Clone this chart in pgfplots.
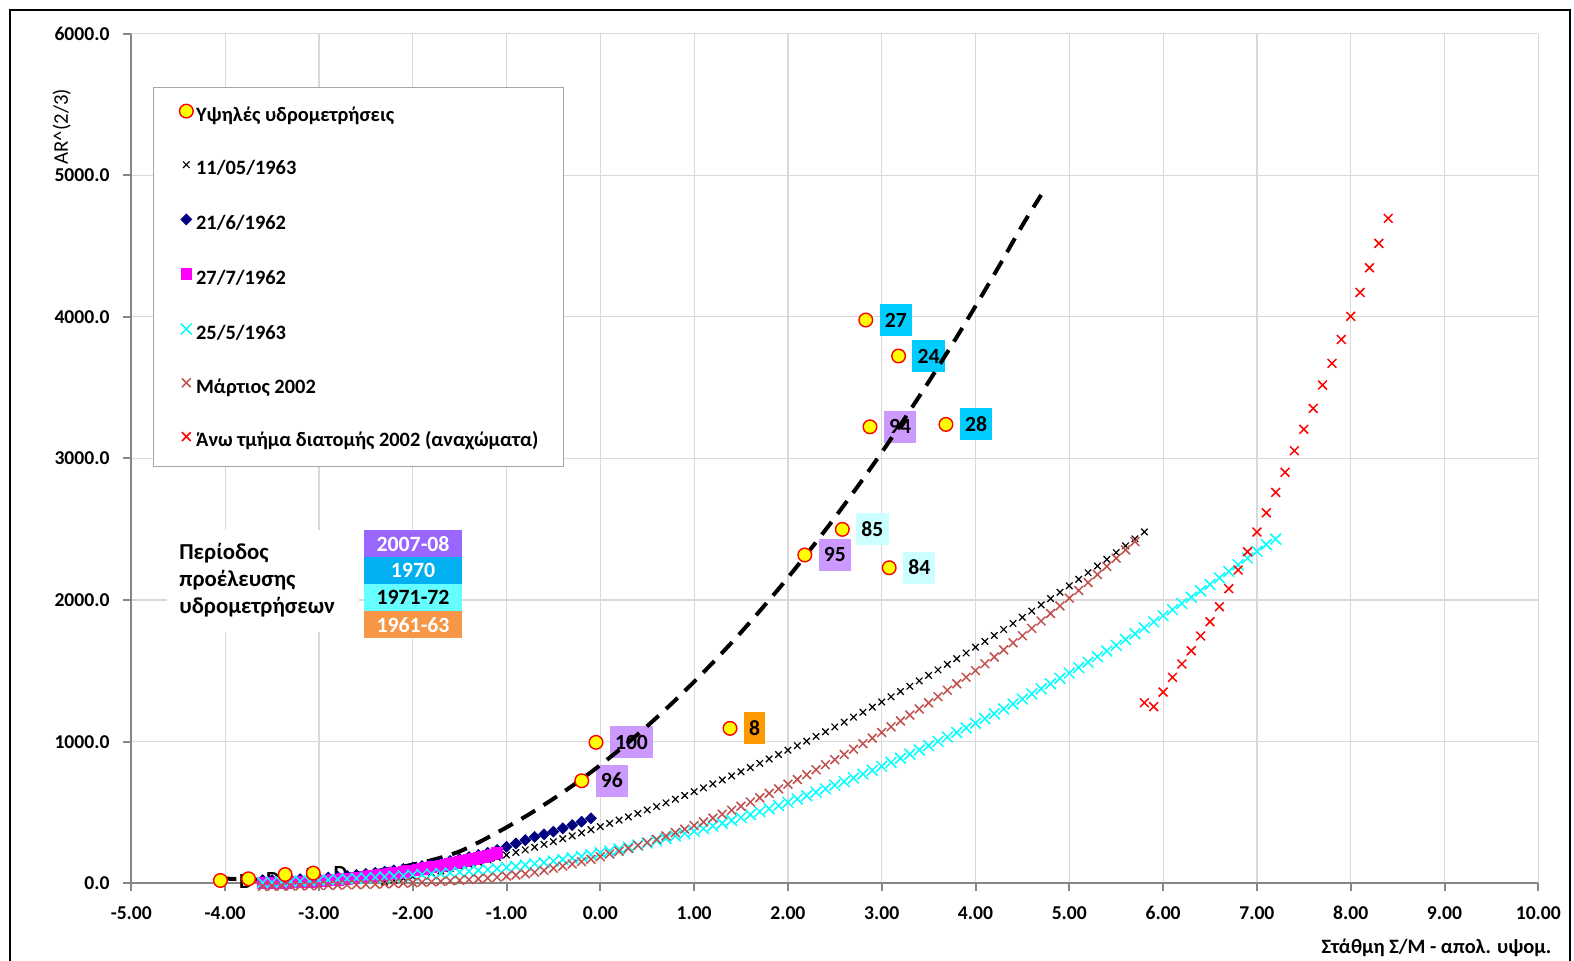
\documentclass[border=0pt]{standalone}
\usepackage{pgfplots}
\pgfplotsset{compat=1.18}
\usepackage{fontspec}
\setmainfont{Carlito}
\definecolor{gridgray}{HTML}{D9D9D9}
\definecolor{axgray}{HTML}{868686}
\definecolor{navyb}{HTML}{000080}
\definecolor{brownred}{HTML}{C0504D}
\definecolor{mag}{HTML}{FF00FF}
\definecolor{cya}{HTML}{00FFFF}
\definecolor{yel}{HTML}{FFFF00}
\definecolor{rd}{HTML}{FF0000}
\definecolor{lblcyan}{HTML}{00CCFF}
\definecolor{lblpurple}{HTML}{CC99FF}
\definecolor{lbllight}{HTML}{CCFFFF}
\definecolor{lblorange}{HTML}{FF9900}
\definecolor{legA}{HTML}{9966FF}
\definecolor{legB}{HTML}{00B0F0}
\definecolor{legC}{HTML}{66FFFF}
\definecolor{legD}{HTML}{F79646}
\newcommand\chfont{\bfseries\fontsize{9.8}{12}\selectfont}
\newcommand\legfont{\bfseries\fontsize{10.2}{12}\selectfont}
\newcommand\lblfont{\bfseries\fontsize{10.8}{12}\selectfont}
\pgfplotsset{legmark/.style={legend image code/.code={\draw[##1] plot coordinates {(0pt,2.4pt)};}}}
\tikzset{lbl/.style={anchor=west, xshift=6.75pt, font=\lblfont, inner xsep=2.6pt, inner ysep=0pt, minimum height=16pt, text height=7pt, text depth=0pt}}
\begin{document}
\begin{tikzpicture}
\useasboundingbox (0pt,0pt) rectangle (787pt,480pt);
\draw[black, line width=0.7pt] (5pt,-5pt) rectangle (785pt,475pt);
\begin{axis}[
  at={(65.65pt,38.35pt)}, anchor=south west,
  width=703.5pt, height=424.9pt, scale only axis,
  xmin=-5, xmax=10, ymin=0, ymax=6000,
  xtick={-5,-4,...,10}, ytick={0,1000,...,6000},
  clip=false,
  axis lines=left, axis line style={-, axgray, line width=1pt},
  grid=major, major grid style={gridgray, line width=0.6pt},
  tick style={axgray, line width=1pt},
  tick align=outside, major tick length=4pt,
  x tick label style={/pgf/number format/.cd, fixed, fixed zerofill, precision=2, assume math mode=true, /tikz/.cd, font=\chfont, yshift=-4pt},
  y tick label style={/pgf/number format/.cd, fixed, fixed zerofill, precision=1, 1000 sep={}, assume math mode=true, /tikz/.cd, font=\chfont, xshift=-3.4pt},
  legend style={at={(axis cs:-4.49,5503)}, anchor=north west, draw=none, fill=none,
    font=\legfont, row sep=17.8pt, inner sep=0pt,
    nodes={inner sep=0pt, text height=7.2pt, text depth=1.8pt, font=\legfont},
    /tikz/every odd column/.append style={column sep=1.5pt}},
  legend cell align=left,
]
% legend entries in reference order
\addlegendimage{only marks, mark=*, mark size=3.4pt, draw=rd, fill=yel, line width=0.7pt, legmark}
\addlegendentry{Υψηλές υδρομετρήσεις}
\addlegendimage{only marks, mark=x, mark size=2.3pt, black, line width=0.6pt, legmark}
\addlegendentry{11/05/1963}
\addlegendimage{only marks, mark=square*, mark options={rotate=45}, mark size=1.9pt, navyb, legmark}
\addlegendentry{21/6/1962}
\addlegendimage{only marks, mark=square*, mark size=2.7pt, mag, legmark}
\addlegendentry{27/7/1962}
\addlegendimage{only marks, mark=x, mark size=3.8pt, cya, line width=0.75pt, legmark}
\addlegendentry{25/5/1963}
\addlegendimage{only marks, mark=x, mark size=3.1pt, brownred, line width=0.75pt, legmark}
\addlegendentry{Μάρτιος 2002}
\addlegendimage{only marks, mark=x, mark size=3.1pt, rd, line width=0.75pt, legmark}
\addlegendentry{Άνω τμήμα διατομής 2002 (αναχώματα)}

% 11/05/1963
\addplot[only marks, mark=x, mark size=2.3pt, black, line width=0.6pt, forget plot] coordinates {
(-2.3,10)(-2.2,22)(-2.1,35)(-2.0,47)(-1.9,60)(-1.8,74)(-1.7,88)(-1.6,103)(-1.5,118)(-1.4,133)(-1.3,149)(-1.2,166)(-1.1,183)(-1.0,200)(-0.9,218)(-0.8,236)(-0.7,255)(-0.6,275)(-0.5,294)(-0.4,315)(-0.3,335)(-0.2,356)(-0.1,378)(0,400)(0.1,423)(0.2,446)(0.3,469)(0.4,493)(0.5,518)(0.6,542)(0.7,568)(0.8,594)(0.9,620)(1.0,647)(1.1,674)(1.2,702)(1.3,730)(1.4,758)(1.5,787)(1.6,817)(1.7,847)(1.8,878)(1.9,909)(2.0,940)(2.1,972)(2.2,1004)(2.3,1037)(2.4,1070)(2.5,1104)(2.6,1138)(2.7,1173)(2.8,1208)(2.9,1244)(3.0,1280)(3.1,1317)(3.2,1354)(3.3,1391)(3.4,1429)(3.5,1468)(3.6,1507)(3.7,1546)(3.8,1586)(3.9,1626)(4.0,1667)(4.1,1708)(4.2,1750)(4.3,1792)(4.4,1835)(4.5,1878)(4.6,1922)(4.7,1966)(4.8,2010)(4.9,2055)(5.0,2101)(5.1,2147)(5.2,2193)(5.3,2240)(5.4,2287)(5.5,2335)(5.6,2383)(5.7,2432)(5.8,2481)};
% 21/6/1962
\addplot[only marks, mark=square*, mark options={rotate=45}, mark size=1.9pt, navyb, forget plot] coordinates {
(-3.6,22)(-3.5,23)(-3.4,24)(-3.3,26)(-3.2,29)(-3.1,32)(-3.0,36)(-2.9,41)(-2.8,46)(-2.7,52)(-2.6,59)(-2.5,66)(-2.4,74)(-2.3,82)(-2.2,91)(-2.1,101)(-2.0,111)(-1.9,122)(-1.8,133)(-1.7,146)(-1.6,158)(-1.5,172)(-1.4,186)(-1.3,201)(-1.2,216)(-1.1,235)(-1.0,258)(-0.9,281)(-0.8,305)(-0.7,328)(-0.6,346)(-0.5,365)(-0.4,388)(-0.3,411)(-0.2,435)(-0.1,459)};
% 27/7/1962
\addplot[only marks, mark=square*, mark size=2.7pt, mag, forget plot] coordinates {
(-3.60,2)(-3.55,2.3)(-3.50,2.8)(-3.45,3.5)(-3.40,4.3)(-3.35,5.2)(-3.30,6.4)(-3.25,7.6)(-3.20,9.1)(-3.15,10.7)(-3.10,12.4)(-3.05,14.3)(-3.00,16.4)(-2.95,18.6)(-2.90,21.0)(-2.85,23.6)(-2.80,26.3)(-2.75,29.1)(-2.70,32.1)(-2.65,35.3)(-2.60,38.6)(-2.55,42.1)(-2.50,45.8)(-2.45,49.6)(-2.40,53.5)(-2.35,57.7)(-2.30,61.9)(-2.25,66.4)(-2.20,71.0)(-2.15,75.7)(-2.10,80.6)(-2.05,85.7)(-2.00,90.9)(-1.95,96.3)(-1.90,101.9)(-1.85,107.6)(-1.80,113.4)(-1.75,119.4)(-1.70,125.6)(-1.65,131.9)(-1.60,138.4)(-1.55,145.1)(-1.50,151.9)(-1.45,158.8)(-1.40,166.0)(-1.35,173.2)(-1.30,180.7)(-1.25,188.3)(-1.20,196.0)(-1.15,203.9)(-1.10,212.0)};
% 25/5/1963
\addplot[only marks, mark=x, mark size=3.8pt, cya, line width=0.75pt, forget plot] coordinates {
(-3.6,5)(-3.5,7)(-3.4,9)(-3.3,12)(-3.2,15)(-3.1,18)(-3.0,22)(-2.9,25)(-2.8,28)(-2.7,32)(-2.6,35)(-2.5,38)(-2.4,42)(-2.3,46)(-2.2,50)(-2.1,54)(-2.0,59)(-1.9,62)(-1.8,66)(-1.7,70)(-1.6,74)(-1.5,79)(-1.4,85)(-1.3,91)(-1.2,97)(-1.1,104)(-1.0,112)(-0.9,120)(-0.8,129)(-0.7,138)(-0.6,147)(-0.5,157)(-0.4,168)(-0.3,179)(-0.2,190)(-0.1,202)(0,215)(0.1,228)(0.2,242)(0.3,256)(0.4,270)(0.5,285)(0.6,301)(0.7,317)(0.8,334)(0.9,351)(1.0,368)(1.1,386)(1.2,405)(1.3,424)(1.4,444)(1.5,464)(1.6,485)(1.7,506)(1.8,527)(1.9,549)(2.0,572)(2.1,595)(2.2,619)(2.3,643)(2.4,667)(2.5,693)(2.6,718)(2.7,744)(2.8,771)(2.9,798)(3.0,826)(3.1,854)(3.2,883)(3.3,912)(3.4,941)(3.5,972)(3.6,1002)(3.7,1033)(3.8,1065)(3.9,1097)(4.0,1130)(4.1,1163)(4.2,1197)(4.3,1231)(4.4,1266)(4.5,1301)(4.6,1337)(4.7,1373)(4.8,1409)(4.9,1447)(5.0,1484)(5.1,1523)(5.2,1561)(5.3,1600)(5.4,1640)(5.5,1680)(5.6,1721)(5.7,1762)(5.8,1804)(5.9,1846)(6.0,1889)(6.1,1932)(6.2,1976)(6.3,2020)(6.4,2065)(6.5,2110)(6.6,2156)(6.7,2202)(6.8,2249)(6.9,2296)(7.0,2344)(7.1,2392)(7.2,2430)};
% Martios 2002
\addplot[only marks, mark=x, mark size=3.1pt, brownred, line width=0.75pt, forget plot] coordinates {
(-3.6,-22)(-3.5,-21)(-3.4,-20)(-3.3,-19)(-3.2,-18)(-3.1,-17)(-3.0,-16)(-2.9,-14)(-2.8,-13)(-2.7,-11)(-2.6,-10)(-2.5,-8)(-2.4,-6)(-2.3,-4)(-2.2,-2)(-2.1,1)(-2.0,4)(-1.9,7)(-1.8,10)(-1.7,13)(-1.6,17)(-1.5,21)(-1.4,26)(-1.3,31)(-1.2,37)(-1.1,43)(-1.0,50)(-0.9,58)(-0.8,67)(-0.7,78)(-0.6,91)(-0.5,106)(-0.4,121)(-0.3,136)(-0.2,153)(-0.1,170)(0,188)(0.1,207)(0.2,226)(0.3,246)(0.4,267)(0.5,289)(0.6,311)(0.7,334)(0.8,358)(0.9,382)(1.0,408)(1.1,433)(1.2,460)(1.3,488)(1.4,516)(1.5,544)(1.6,574)(1.7,604)(1.8,635)(1.9,667)(2.0,700)(2.1,733)(2.2,767)(2.3,802)(2.4,837)(2.5,873)(2.6,910)(2.7,947)(2.8,986)(2.9,1025)(3.0,1065)(3.1,1105)(3.2,1146)(3.3,1188)(3.4,1231)(3.5,1274)(3.6,1318)(3.7,1363)(3.8,1409)(3.9,1455)(4.0,1502)(4.1,1550)(4.2,1598)(4.3,1648)(4.4,1698)(4.5,1748)(4.6,1800)(4.7,1852)(4.8,1905)(4.9,1958)(5.0,2013)(5.1,2068)(5.2,2123)(5.3,2180)(5.4,2237)(5.5,2295)(5.6,2354)(5.7,2413)};
% Ano tmima 2002
\addplot[only marks, mark=x, mark size=3.1pt, rd, line width=0.75pt, forget plot] coordinates {
(5.8,1275)(5.9,1247)(6.0,1350)(6.1,1454)(6.2,1548)(6.3,1642)(6.4,1746)(6.5,1847)(6.6,1953)(6.7,2080)(6.8,2212)(6.9,2341)(7.0,2480)(7.1,2616)(7.2,2760)(7.3,2902)(7.4,3054)(7.5,3205)(7.6,3353)(7.7,3518)(7.8,3671)(7.9,3840)(8.0,4003)(8.1,4172)(8.2,4346)(8.3,4518)(8.4,4695)};
% high measurements
\addplot[only marks, mark=*, mark size=3.4pt, draw=rd, fill=yel, line width=0.7pt, forget plot] coordinates {
(-4.05,20)(-3.75,32)(-3.36,62)(-3.06,72)(-0.046,995)(-0.198,724)(1.383,1094)(2.18,2318)(2.58,2499)(3.08,2228)(2.875,3223)(3.685,3240)(2.83,3977)(3.18,3723)};
% data labels
\node[lbl, fill=lblcyan] at (axis cs:2.83,3977) {27};
\node[lbl, fill=lblcyan] at (axis cs:3.18,3723) {24};
\node[lbl, fill=lblcyan] at (axis cs:3.685,3240) {28};
\node[lbl, fill=lblpurple] at (axis cs:2.875,3223) {94};
\node[lbl, fill=lblpurple] at (axis cs:2.18,2318) {95};
\node[lbl, fill=lblpurple] at (axis cs:-0.046,995) {100};
\node[lbl, fill=lblpurple] at (axis cs:-0.198,724) {96};
\node[lbl, fill=lbllight] at (axis cs:2.58,2499) {85};
\node[lbl, fill=lbllight] at (axis cs:3.08,2228) {84};
\node[lbl, fill=lblorange] at (axis cs:1.383,1094) {8};
% trend line
\addplot[black, line width=2pt, dash pattern=on 8pt off 5pt, smooth, forget plot] coordinates {
(-4.05,35)(-3.75,27)(-3.5,27)(-3.25,32)(-3.0,42)(-2.75,56)(-2.5,76)(-2.25,101)(-2.0,132)(-1.75,172)(-1.5,225)(-1.25,305)(-1.0,395)(-0.75,491)(-0.5,597)(-0.25,711)(0,835)(0.25,968)(0.5,1110)(0.75,1262)(1.0,1423)(1.25,1593)(1.5,1772)(1.75,1961)(2.0,2158)(2.25,2366)(2.5,2582)(2.75,2808)(3.0,3042)(3.25,3287)(3.5,3540)(3.75,3803)(4.0,4075)(4.25,4356)(4.5,4646)(4.7,4860)};
% D labels
\node[font=\lblfont, inner sep=0pt] at (axis cs:-3.777,16) {D};
\node[font=\lblfont, inner sep=0pt] at (axis cs:-3.49,30) {D};
\node[font=\lblfont, inner sep=0pt] at (axis cs:-3.07,52) {D};
\node[font=\lblfont, inner sep=0pt] at (axis cs:-2.77,68) {D};
% legend frame
\draw[fill=white, draw=gray!70, line width=0.6pt] (axis cs:-4.762,5619.5) rectangle (axis cs:-0.3966,2940.3);
% period legend
\fill[white] (axis cs:-4.620,2494.2) rectangle (axis cs:-2.572,1774.1);
\node[anchor=west, align=left, font=\bfseries\fontsize{11.4}{13.6}\selectfont, inner sep=0pt] at (axis cs:-4.492,2141) {Περίοδος\\προέλευσης\\υδρομετρήσεων};
\fill[legA] (axis cs:-2.515,2494.2) rectangle (axis cs:-1.478,2301.4);
\fill[legB] (axis cs:-2.515,2301.4) rectangle (axis cs:-1.478,2112.9);
\fill[legC] (axis cs:-2.515,2112.9) rectangle (axis cs:-1.478,1922.3);
\fill[legD] (axis cs:-2.515,1922.3) rectangle (axis cs:-1.478,1728.9);
\node[font=\bfseries\fontsize{10.9}{12}\selectfont, text=white] at (axis cs:-1.9965,2397.8) {2007-08};
\node[font=\bfseries\fontsize{10.9}{12}\selectfont, text=white] at (axis cs:-1.9965,2207.2) {1970};
\node[font=\bfseries\fontsize{10.9}{12}\selectfont, text=black] at (axis cs:-1.9965,2017.6) {1971-72};
\node[font=\bfseries\fontsize{10.9}{12}\selectfont, text=white] at (axis cs:-1.9965,1825.6) {1961-63};
\end{axis}
\node[rotate=90, font=\fontsize{10.4}{12}\selectfont] at (30.85pt,416.65pt) {AR\textasciicircum(2/3)};
\node[anchor=east, inner sep=0pt, font=\bfseries\fontsize{10.2}{12}\selectfont] at (775.85pt,5.85pt) {Στάθμη Σ/Μ - απολ. υψομ.};
\end{tikzpicture}
\end{document}
